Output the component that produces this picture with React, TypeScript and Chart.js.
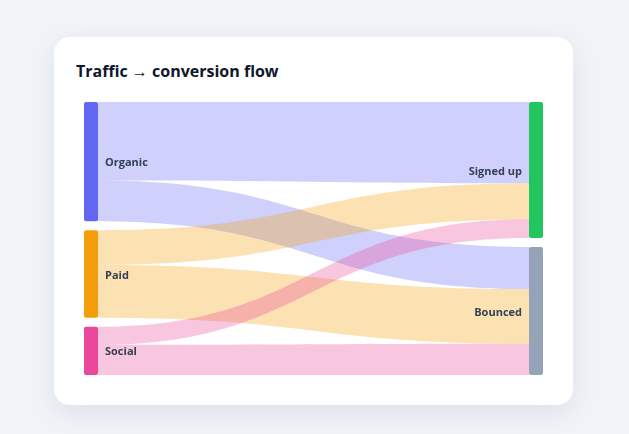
import React, { useEffect, useRef } from "react";
import { Chart, registerables } from "chart.js";

Chart.register(...registerables);

// ---- Data ----
const sources = ["Organic", "Paid", "Social"];
const targets = ["Signed up", "Bounced"];
const sourceColors = ["#6366f1", "#f59e0b", "#ec4899"];
const targetColors = ["#22c55e", "#94a3b8"];
const flowFrom = ["Organic", "Organic", "Paid", "Paid", "Social", "Social"];
const flowTo = ["Signed up", "Bounced", "Signed up", "Bounced", "Signed up", "Bounced"];
const flowValues = [52, 27, 23, 35, 12, 20];

const GAP_PX = 9;
const NODE_W_PX = 14;
const LABEL_FONT = "700 11px 'Open Sans', 'Noto Sans', sans-serif";

function hexToRgba(hex: string, a: number) {
  const n = parseInt(hex.slice(1), 16);
  return `rgba(${(n >> 16) & 255},${(n >> 8) & 255},${n & 255},${a})`;
}

const sankeyPlugin = {
  id: "sankeyFlow",
  afterDatasetsDraw(chart: any) {
    const { ctx } = chart;
    const xs = chart.scales.x;
    const ys = chart.scales.y;
    const gapU = GAP_PX / (ys.bottom - ys.top);
    const nodeWU = NODE_W_PX / (xs.right - xs.left);

    const totals: Record<string, number> = {};
    flowValues.forEach((v, i) => {
      totals[flowFrom[i]] = (totals[flowFrom[i]] || 0) + v;
      totals[flowTo[i]] = (totals[flowTo[i]] || 0) + v;
    });

    type NodePos = { y0: number; y1: number; k: number };
    const pos: Record<string, NodePos> = {};
    const layoutColumn = (names: string[]) => {
      const sum = names.reduce((a, n) => a + totals[n], 0);
      const k = (1 - (names.length - 1) * gapU) / sum;
      let y = 0;
      names.forEach((n) => {
        pos[n] = { y0: y, y1: y + totals[n] * k, k };
        y += totals[n] * k + gapU;
      });
    };
    layoutColumn(sources);
    layoutColumn(targets);

    const outCursor: Record<string, number> = {};
    const inCursor: Record<string, number> = {};
    sources.forEach((n) => (outCursor[n] = pos[n].y0));
    targets.forEach((n) => (inCursor[n] = pos[n].y0));

    const x1 = xs.getPixelForValue(nodeWU);
    const x2 = xs.getPixelForValue(1 - nodeWU);
    const xm = (x1 + x2) / 2;

    sources.forEach((s, si) => {
      targets.forEach((t) => {
        const idx = flowFrom.findIndex((f, i) => f === s && flowTo[i] === t);
        if (idx < 0) return;
        const v = flowValues[idx];
        const sy0 = outCursor[s];
        const sy1 = sy0 + v * pos[s].k;
        outCursor[s] = sy1;
        const ty0 = inCursor[t];
        const ty1 = ty0 + v * pos[t].k;
        inCursor[t] = ty1;
        const a0 = ys.getPixelForValue(sy0);
        const a1 = ys.getPixelForValue(sy1);
        const b0 = ys.getPixelForValue(ty0);
        const b1 = ys.getPixelForValue(ty1);
        ctx.save();
        ctx.beginPath();
        ctx.moveTo(x1, a0);
        ctx.bezierCurveTo(xm, a0, xm, b0, x2, b0);
        ctx.lineTo(x2, b1);
        ctx.bezierCurveTo(xm, b1, xm, a1, x1, a1);
        ctx.closePath();
        ctx.fillStyle = hexToRgba(sourceColors[si], 0.31);
        ctx.fill();
        ctx.restore();
      });
    });

    const drawNode = (name: string, color: string, left: boolean) => {
      const p = pos[name];
      const xa = xs.getPixelForValue(left ? 0 : 1 - nodeWU);
      const xb = xs.getPixelForValue(left ? nodeWU : 1);
      const ya = ys.getPixelForValue(p.y0);
      const yb = ys.getPixelForValue(p.y1);
      ctx.save();
      ctx.fillStyle = color;
      ctx.beginPath();
      ctx.roundRect(xa, ya, xb - xa, yb - ya, 2);
      ctx.fill();
      ctx.font = LABEL_FONT;
      ctx.fillStyle = "#334155";
      ctx.textBaseline = "middle";
      ctx.textAlign = left ? "left" : "right";
      ctx.fillText(name, left ? xb + 7 : xa - 7, (ya + yb) / 2 + 1.5);
      ctx.restore();
    };
    sources.forEach((n, i) => drawNode(n, sourceColors[i], true));
    targets.forEach((n, i) => drawNode(n, targetColors[i], false));
  },
};

export default function App() {
  const ref = useRef<HTMLCanvasElement>(null);
  useEffect(() => {
    if (!ref.current) return;
    const chart = new Chart(ref.current, {
      type: "scatter",
      data: { datasets: [{ data: [] }] },
      options: {
        animation: false,
        responsive: false,
        devicePixelRatio: 1,
        layout: { padding: 0 },
        plugins: { legend: { display: false }, tooltip: { enabled: false } },
        scales: {
          x: { type: "linear", min: 0, max: 1, display: false },
          y: { type: "linear", min: 0, max: 1, reverse: true, display: false },
        },
      },
      plugins: [sankeyPlugin],
    });
    return () => chart.destroy();
  }, []);

  return (
    <div
      style={{
        position: "fixed",
        left: 0,
        top: 0,
        width: 629,
        height: 434,
        background: "#f0f3f8",
        overflow: "hidden",
      }}
    >
      <div
        style={{
          position: "absolute",
          left: 54,
          top: 37,
          width: 519,
          height: 368,
          background: "#ffffff",
          borderRadius: 16,
          boxShadow: "0 8px 28px rgba(15,23,42,0.08)",
        }}
      >
        <div
          style={{
            position: "absolute",
            left: 22,
            top: 23,
            font: "700 16px 'Open Sans', 'Noto Sans', sans-serif",
            color: "#0f172a",
            lineHeight: "22px",
            whiteSpace: "nowrap",
          }}
        >
          Traffic → conversion flow
        </div>
        <canvas
          ref={ref}
          width={459}
          height={273}
          style={{ position: "absolute", left: 30, top: 65, width: 459, height: 273 }}
        />
      </div>
    </div>
  );
}
